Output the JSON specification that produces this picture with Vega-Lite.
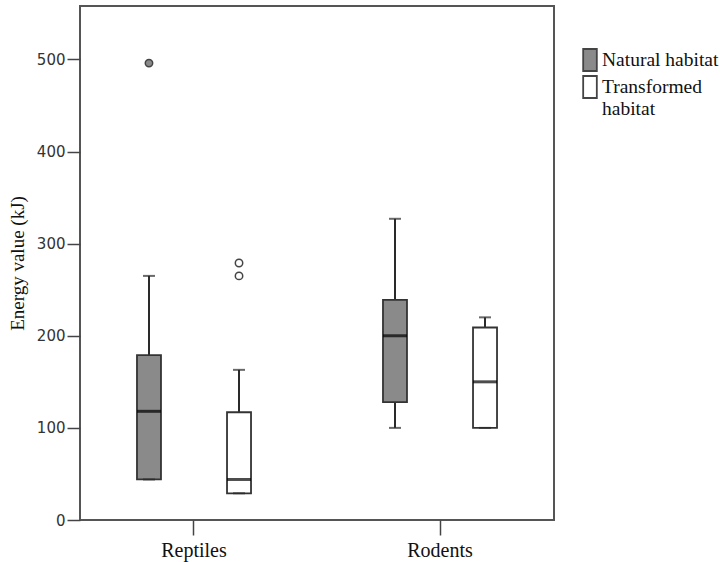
{
  "$schema": "https://vega.github.io/schema/vega-lite/v6.json",
  "width": 474,
  "height": 514,
  "autosize": {"type": "none"},
  "padding": {"left": 80, "top": 6, "right": 173, "bottom": 42},
  "background": "white",
  "config": {
    "view": {"stroke": "#555555", "strokeWidth": 2},
    "axis": {"grid": false, "domainColor": "#555555", "domainWidth": 2, "tickColor": "#444444", "tickWidth": 1.5},
    "axisX": {"labelFont": "Liberation Serif", "labelFontSize": 20, "labelColor": "#111111", "tickSize": 15, "labelPadding": 5, "labelAngle": 0, "domain": false},
    "axisBand": {"labelFont": "Liberation Serif", "labelFontSize": 20},
    "axisY": {"labelFont": "DejaVu Sans", "labelFontSize": 15, "labelColor": "#333333", "tickSize": 13, "labelPadding": 2, "domain": false, "titleFont": "Liberation Serif", "titleFontSize": 19, "titleFontWeight": "normal", "titleColor": "#111111", "titlePadding": 9},
    "legend": {"labelFont": "Liberation Serif", "labelFontSize": 19.5, "labelColor": "#111111"}
  },
  "datasets": {
    "stats": [
      {"group": "Reptiles", "habitat": "Natural habitat", "lower": 44, "q1": 44, "median": 118, "q3": 179, "upper": 265},
      {"group": "Reptiles", "habitat": "Transformed habitat", "lower": 29, "q1": 29, "median": 44, "q3": 117, "upper": 163},
      {"group": "Rodents", "habitat": "Natural habitat", "lower": 100, "q1": 128, "median": 200, "q3": 239, "upper": 327},
      {"group": "Rodents", "habitat": "Transformed habitat", "lower": 100, "q1": 100, "median": 150, "q3": 209, "upper": 220}
    ],
    "outliers": [
      {"group": "Reptiles", "habitat": "Natural habitat", "value": 496},
      {"group": "Reptiles", "habitat": "Transformed habitat", "value": 279},
      {"group": "Reptiles", "habitat": "Transformed habitat", "value": 265}
    ]
  },
  "encoding": {
    "x": {
      "field": "group", "type": "nominal",
      "scale": {"paddingInner": 0.268, "paddingOuter": 0.0974},
      "axis": {"title": null, "labelFont": "Liberation Serif", "labelFontSize": 20}
    },
    "xOffset": {"field": "habitat", "type": "nominal", "scale": {"paddingInner": 0, "paddingOuter": 0}}
  },
  "layer": [
    {
      "data": {"name": "stats"},
      "mark": {"type": "rule", "color": "#2a2a2a", "strokeWidth": 2},
      "encoding": {
        "y": {
          "field": "lower", "type": "quantitative",
          "scale": {"domain": [0, 558], "nice": false, "zero": true},
          "axis": {"title": "Energy value (kJ)", "values": [0, 100, 200, 300, 400, 500]}
        },
        "y2": {"field": "upper"}
      }
    },
    {
      "data": {"name": "stats"},
      "mark": {"type": "bar", "size": 24, "stroke": "#333333", "strokeWidth": 1.8},
      "encoding": {
        "y": {"field": "q1", "type": "quantitative"},
        "y2": {"field": "q3"},
        "fill": {
          "field": "habitat", "type": "nominal",
          "scale": {"domain": ["Natural habitat", "Transformed habitat"], "range": ["#8a8a8a", "#ffffff"]},
          "legend": {
            "title": null, "orient": "none", "legendX": 498, "legendY": 42,
            "symbolType": "M-0.62,-1L0.62,-1L0.62,1L-0.62,1Z", "symbolSize": 484,
            "symbolStrokeColor": "#333333", "symbolStrokeWidth": 1.8,
            "rowPadding": -4, "labelOffset": 0,
            "labelExpr": "datum.label == 'Transformed habitat' ? ['Transformed', 'habitat'] : datum.label"
          }
        }
      }
    },
    {
      "data": {"name": "stats"},
      "mark": {"type": "tick", "size": 24, "thickness": 3, "color": "#000000"},
      "encoding": {"y": {"field": "median", "type": "quantitative"}}
    },
    {
      "data": {"name": "stats"},
      "mark": {"type": "tick", "size": 12, "thickness": 2, "color": "#2a2a2a"},
      "encoding": {"y": {"field": "upper", "type": "quantitative"}}
    },
    {
      "data": {"name": "stats"},
      "mark": {"type": "tick", "size": 12, "thickness": 2, "color": "#2a2a2a"},
      "encoding": {"y": {"field": "lower", "type": "quantitative"}}
    },
    {
      "data": {"name": "outliers"},
      "mark": {"type": "point", "shape": "circle", "size": 55, "filled": true, "stroke": "#444444", "strokeWidth": 1.5, "opacity": 1},
      "encoding": {
        "y": {"field": "value", "type": "quantitative"},
        "fill": {"field": "habitat", "type": "nominal"}
      }
    }
  ]
}
